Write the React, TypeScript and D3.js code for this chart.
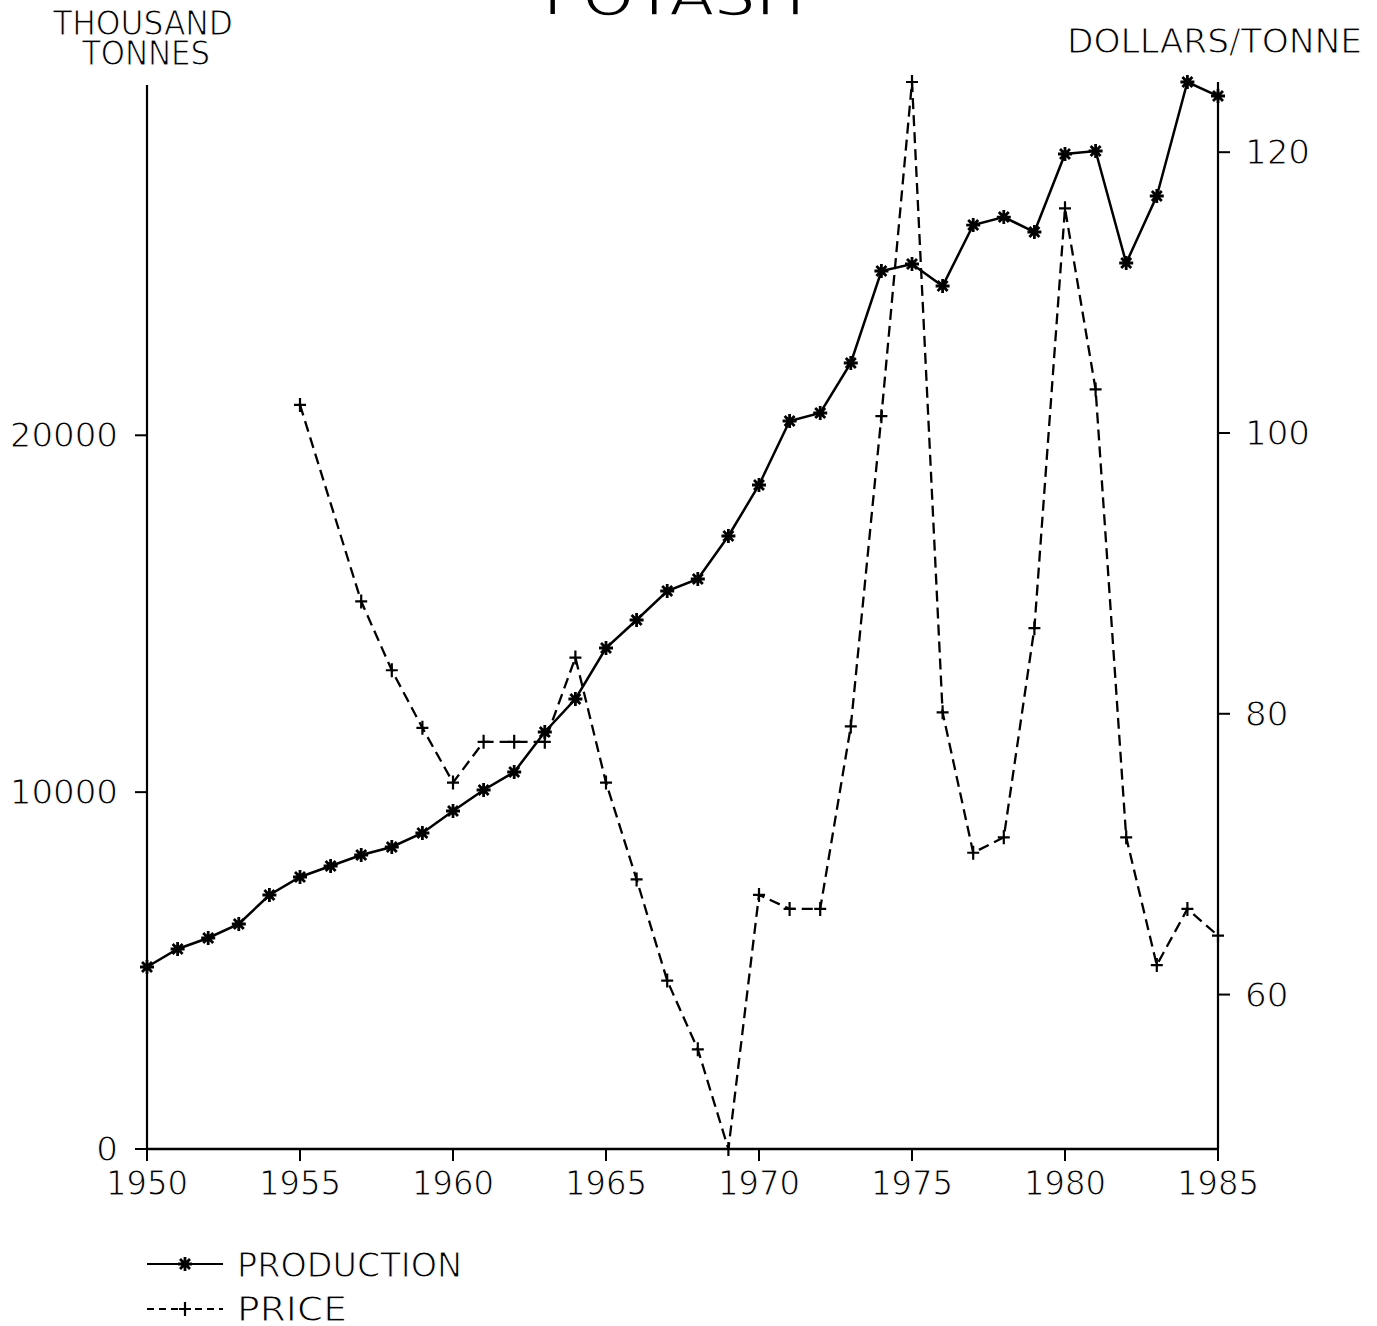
import React from "react";
import * as d3 from "d3";

const productionYears = [1950, 1951, 1952, 1953, 1954, 1955, 1956, 1957, 1958, 1959, 1960, 1961, 1962, 1963, 1964, 1965, 1966, 1967, 1968, 1969, 1970, 1971, 1972, 1973, 1974, 1975, 1976, 1977, 1978, 1979, 1980, 1981, 1982, 1983, 1984, 1985];
const production = [5100, 5605, 5913, 6305, 7118, 7622, 7930, 8239, 8463, 8855, 9471, 10060, 10564, 11685, 12610, 14039, 14824, 15636, 15973, 17178, 18607, 20400, 20624, 22026, 24604, 24800, 24183, 25892, 26116, 25696, 27882, 27966, 24828, 26705, 29900, 29507];

const priceYears = [1955, 1957, 1958, 1959, 1960, 1961, 1962, 1963, 1964, 1965, 1966, 1967, 1968, 1969, 1970, 1971, 1972, 1973, 1974, 1975, 1976, 1977, 1978, 1979, 1980, 1981, 1982, 1983, 1984, 1985];
const price = [102.0, 88.0, 83.1, 79.0, 75.1, 78.0, 78.0, 78.0, 84.0, 75.1, 68.2, 61.0, 56.1, 49.0, 67.1, 66.1, 66.1, 79.1, 101.2, 125.0, 80.1, 70.1, 71.2, 86.1, 116.0, 103.1, 71.2, 62.1, 66.1, 64.2];

const xTicks = [1950, 1955, 1960, 1965, 1970, 1975, 1980, 1985];
const leftTicks = [0, 10000, 20000];
const rightTicks = [60, 80, 100, 120];

const FONT = "'DejaVu Sans', 'Liberation Sans', sans-serif";

// thin the glyphs a little to imitate the plotter's stroke font
const thin = { stroke: "#fff", strokeWidth: 1.1 } as const;

function Star({ x, y }: { x: number; y: number }) {
  const r = 7;
  const d = 5;
  return (
    <path
      d={`M${x - r},${y}L${x + r},${y}M${x},${y - r}L${x},${y + r}M${x - d},${y - d}L${x + d},${y + d}M${x - d},${y + d}L${x + d},${y - d}`}
      stroke="#000"
      strokeWidth={2.8}
      fill="none"
    />
  );
}

function Plus({ x, y }: { x: number; y: number }) {
  return (
    <path
      d={`M${x - 6},${y}L${x + 6},${y}M${x},${y - 7}L${x},${y + 7}`}
      stroke="#000"
      strokeWidth={2.2}
      fill="none"
    />
  );
}

export default function App() {
  const left = 147;
  const right = 1218;
  const bottom = 1149;
  const top = 82;

  const x = d3.scaleLinear().domain([1950, 1985]).range([left, right]);
  const yL = d3.scaleLinear().domain([0, d3.max(production) as number]).range([bottom, top]);
  const yR = d3
    .scaleLinear()
    .domain([d3.min(price) as number, d3.max(price) as number])
    .range([bottom, top]);

  const prodPts = productionYears.map((yr, i) => [x(yr), yL(production[i])] as [number, number]);
  const pricePts = priceYears.map((yr, i) => [x(yr), yR(price[i])] as [number, number]);
  const line = d3.line<[number, number]>();

  return (
    <svg
      width={1377}
      height={1326}
      style={{ position: "absolute", left: 0, top: 0, display: "block", background: "#fff" }}
      fontFamily={FONT}
    >
      <rect width={1377} height={1326} fill="#fff" />
      {/* title */}
      <text x={543} y={15} fontSize={54} textLength={262} lengthAdjust="spacingAndGlyphs" {...thin} strokeWidth={1.6}>
        POTASH
      </text>
      {/* axis titles */}
      <text x={53} y={35} fontSize={34} textLength={180} lengthAdjust="spacingAndGlyphs" {...thin}>
        THOUSAND
      </text>
      <text x={82} y={65} fontSize={34} textLength={128} lengthAdjust="spacingAndGlyphs" {...thin}>
        TONNES
      </text>
      <text x={1067} y={53} fontSize={34} textLength={295} lengthAdjust="spacingAndGlyphs" {...thin}>
        DOLLARS/TONNE
      </text>

      {xTicks.map((t) => (
        <text key={"xl" + t} x={x(t)} y={1195} fontSize={34} textAnchor="middle" textLength={82} lengthAdjust="spacingAndGlyphs" {...thin}>
          {t}
        </text>
      ))}
      {leftTicks.map((t) => (
        <text key={"ll" + t} x={118} y={yL(t) + 12} fontSize={34} textAnchor="end" {...thin}>
          {t}
        </text>
      ))}
      {rightTicks.map((t) => (
        <text key={"rl" + t} x={1245} y={yR(t) + 12} fontSize={34} {...thin}>
          {t}
        </text>
      ))}

      {/* axes */}
      <line x1={left} y1={top + 3} x2={left} y2={bottom} stroke="#000" strokeWidth={2.2} />
      <line x1={right} y1={top} x2={right} y2={bottom} stroke="#000" strokeWidth={2.2} />
      <line x1={left} y1={bottom} x2={right} y2={bottom} stroke="#000" strokeWidth={2.4} />

      {xTicks.map((t) => (
        <line key={"x" + t} x1={x(t)} y1={bottom} x2={x(t)} y2={bottom + 12} stroke="#000" strokeWidth={2} />
      ))}
      {leftTicks.map((t) => (
        <line key={"l" + t} x1={left - 12} y1={yL(t)} x2={left} y2={yL(t)} stroke="#000" strokeWidth={2} />
      ))}
      {rightTicks.map((t) => (
        <line key={"r" + t} x1={right} y1={yR(t)} x2={right + 12} y2={yR(t)} stroke="#000" strokeWidth={2} />
      ))}

      {/* production */}
      <path d={line(prodPts) || ""} fill="none" stroke="#000" strokeWidth={2.5} />
      {prodPts.map((p, i) => (
        <Star key={"s" + i} x={p[0]} y={p[1]} />
      ))}

      {/* price */}
      <path d={line(pricePts) || ""} fill="none" stroke="#000" strokeWidth={2.3} strokeDasharray="11,6" />
      {pricePts.map((p, i) => (
        <Plus key={"p" + i} x={p[0]} y={p[1]} />
      ))}

      {/* legend */}
      <line x1={147} y1={1264} x2={223} y2={1264} stroke="#000" strokeWidth={2.2} />
      <Star x={185} y={1264} />
      <text x={237} y={1277} fontSize={34} textLength={225} lengthAdjust="spacingAndGlyphs" {...thin}>
        PRODUCTION
      </text>
      <line x1={147} y1={1309} x2={223} y2={1309} stroke="#000" strokeWidth={2.2} strokeDasharray="7,5" />
      <Plus x={185} y={1309} />
      <text x={237} y={1321} fontSize={34} textLength={110} lengthAdjust="spacingAndGlyphs" {...thin}>
        PRICE
      </text>
    </svg>
  );
}
